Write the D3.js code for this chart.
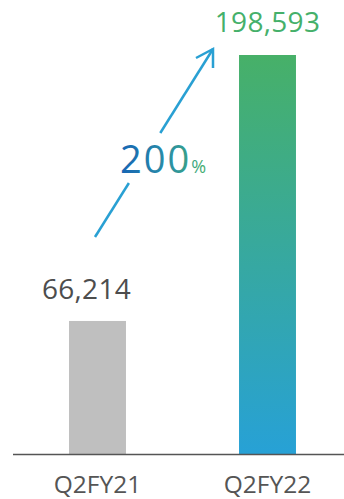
<!DOCTYPE html>
<html>
<head>
<meta charset="utf-8">
<script src="https://cdn.jsdelivr.net/npm/d3@7"></script>
<style>
  html, body { margin: 0; padding: 0; background: #fff; }
  svg { display: block; }
  text { font-family: "Open Sans", "DejaVu Sans", sans-serif; }
</style>
</head>
<body>
<svg id="chart" width="344" height="499"></svg>
<script>
// Quarterly values
const categories = ["Q2FY21", "Q2FY22"];
const values = [66214, 198593];
const valueLabels = ["66,214", "198,593"];
const growthLabel = "200";
const growthUnit = "%";

const W = 344, H = 499;
const baseY = 454, topY = 55;

const svg = d3.select("#chart");
const defs = svg.append("defs");

// vertical gradient for the latest-quarter bar (green at top, blue at base)
const barGrad = defs.append("linearGradient")
  .attr("id", "barGrad").attr("x1", 0).attr("y1", 0).attr("x2", 0).attr("y2", 1);
barGrad.append("stop").attr("offset", "0%").attr("stop-color", "#47b068");
barGrad.append("stop").attr("offset", "100%").attr("stop-color", "#27a1d6");

// horizontal gradient for the growth figure
const txtGrad = defs.append("linearGradient")
  .attr("id", "txtGrad").attr("gradientUnits", "userSpaceOnUse")
  .attr("x1", 121).attr("y1", 0).attr("x2", 207).attr("y2", 0);
txtGrad.append("stop").attr("offset", "0%").attr("stop-color", "#1766b4");
txtGrad.append("stop").attr("offset", "55%").attr("stop-color", "#2a8fa6");
txtGrad.append("stop").attr("offset", "100%").attr("stop-color", "#45b06c");

const x = d3.scaleBand()
  .domain(categories)
  .range([12.5, 352.5])
  .paddingInner(0.665)
  .paddingOuter(0.3325);

const y = d3.scaleLinear()
  .domain([0, d3.max(values)])
  .range([baseY, topY]);

const data = categories.map((c, i) => ({ cat: c, value: values[i], label: valueLabels[i] }));
const fills = ["#bfbfbf", "url(#barGrad)"];
const labelColors = ["#4d4d4d", "#45b06a"];

svg.selectAll("rect.bar").data(data).join("rect")
  .attr("class", "bar")
  .attr("x", d => x(d.cat))
  .attr("y", d => y(d.value))
  .attr("width", x.bandwidth())
  .attr("height", d => baseY - y(d.value))
  .attr("fill", (d, i) => fills[i]);

// value labels above bars
svg.selectAll("text.val").data(data).join("text")
  .attr("class", "val")
  .attr("x", (d, i) => x(d.cat) + x.bandwidth() / 2 + (i === 1 ? 0 : -11))
  .attr("y", (d, i) => y(d.value) - (i === 1 ? 23 : 22))
  .attr("text-anchor", "middle")
  .attr("font-size", 28)
  .attr("letter-spacing", 0.3)
  .attr("fill", (d, i) => labelColors[i])
  .text(d => d.label);

// baseline axis
const xAxis = d3.axisBottom(x).tickSize(0).tickPadding(22);
const gx = svg.append("g").attr("transform", `translate(0,${baseY})`).call(xAxis);
gx.select(".domain").attr("d", `M13,0.5H${W}`).attr("stroke", "#555").attr("stroke-width", 1.5);
gx.selectAll(".tick text")
  .attr("font-size", 24.5)
  .attr("font-family", "\"Open Sans\", sans-serif")
  .attr("fill", "#555")
  .attr("dy", "0.71em");

// growth arrow, broken around the percentage label
const arrow = svg.append("g").attr("stroke", "#29a0d3").attr("stroke-width", 2.5)
  .attr("fill", "none").attr("stroke-linecap", "butt");
const tail = [95, 237], tip = [213, 49];
const lerp = t => [tail[0] + (tip[0] - tail[0]) * t, tail[1] + (tip[1] - tail[1]) * t];
const gapA = lerp((237 - 183) / 188), gapB = lerp((237 - 133) / 188);
arrow.append("line").attr("x1", tail[0]).attr("y1", tail[1]).attr("x2", gapA[0]).attr("y2", gapA[1]);
arrow.append("line").attr("x1", gapB[0]).attr("y1", gapB[1]).attr("x2", tip[0]).attr("y2", tip[1]);
arrow.append("path").attr("d", `M196,58L${tip[0]},${tip[1]}L213,68`).attr("stroke-linejoin", "miter");

// growth label
const g = svg.append("text").attr("x", 120).attr("y", 173).attr("fill", "url(#txtGrad)");
g.append("tspan").attr("font-size", 38).attr("letter-spacing", 2).text(growthLabel);
g.append("tspan").attr("font-size", 18).attr("dx", 0).text(growthUnit);
</script>
</body>
</html>
